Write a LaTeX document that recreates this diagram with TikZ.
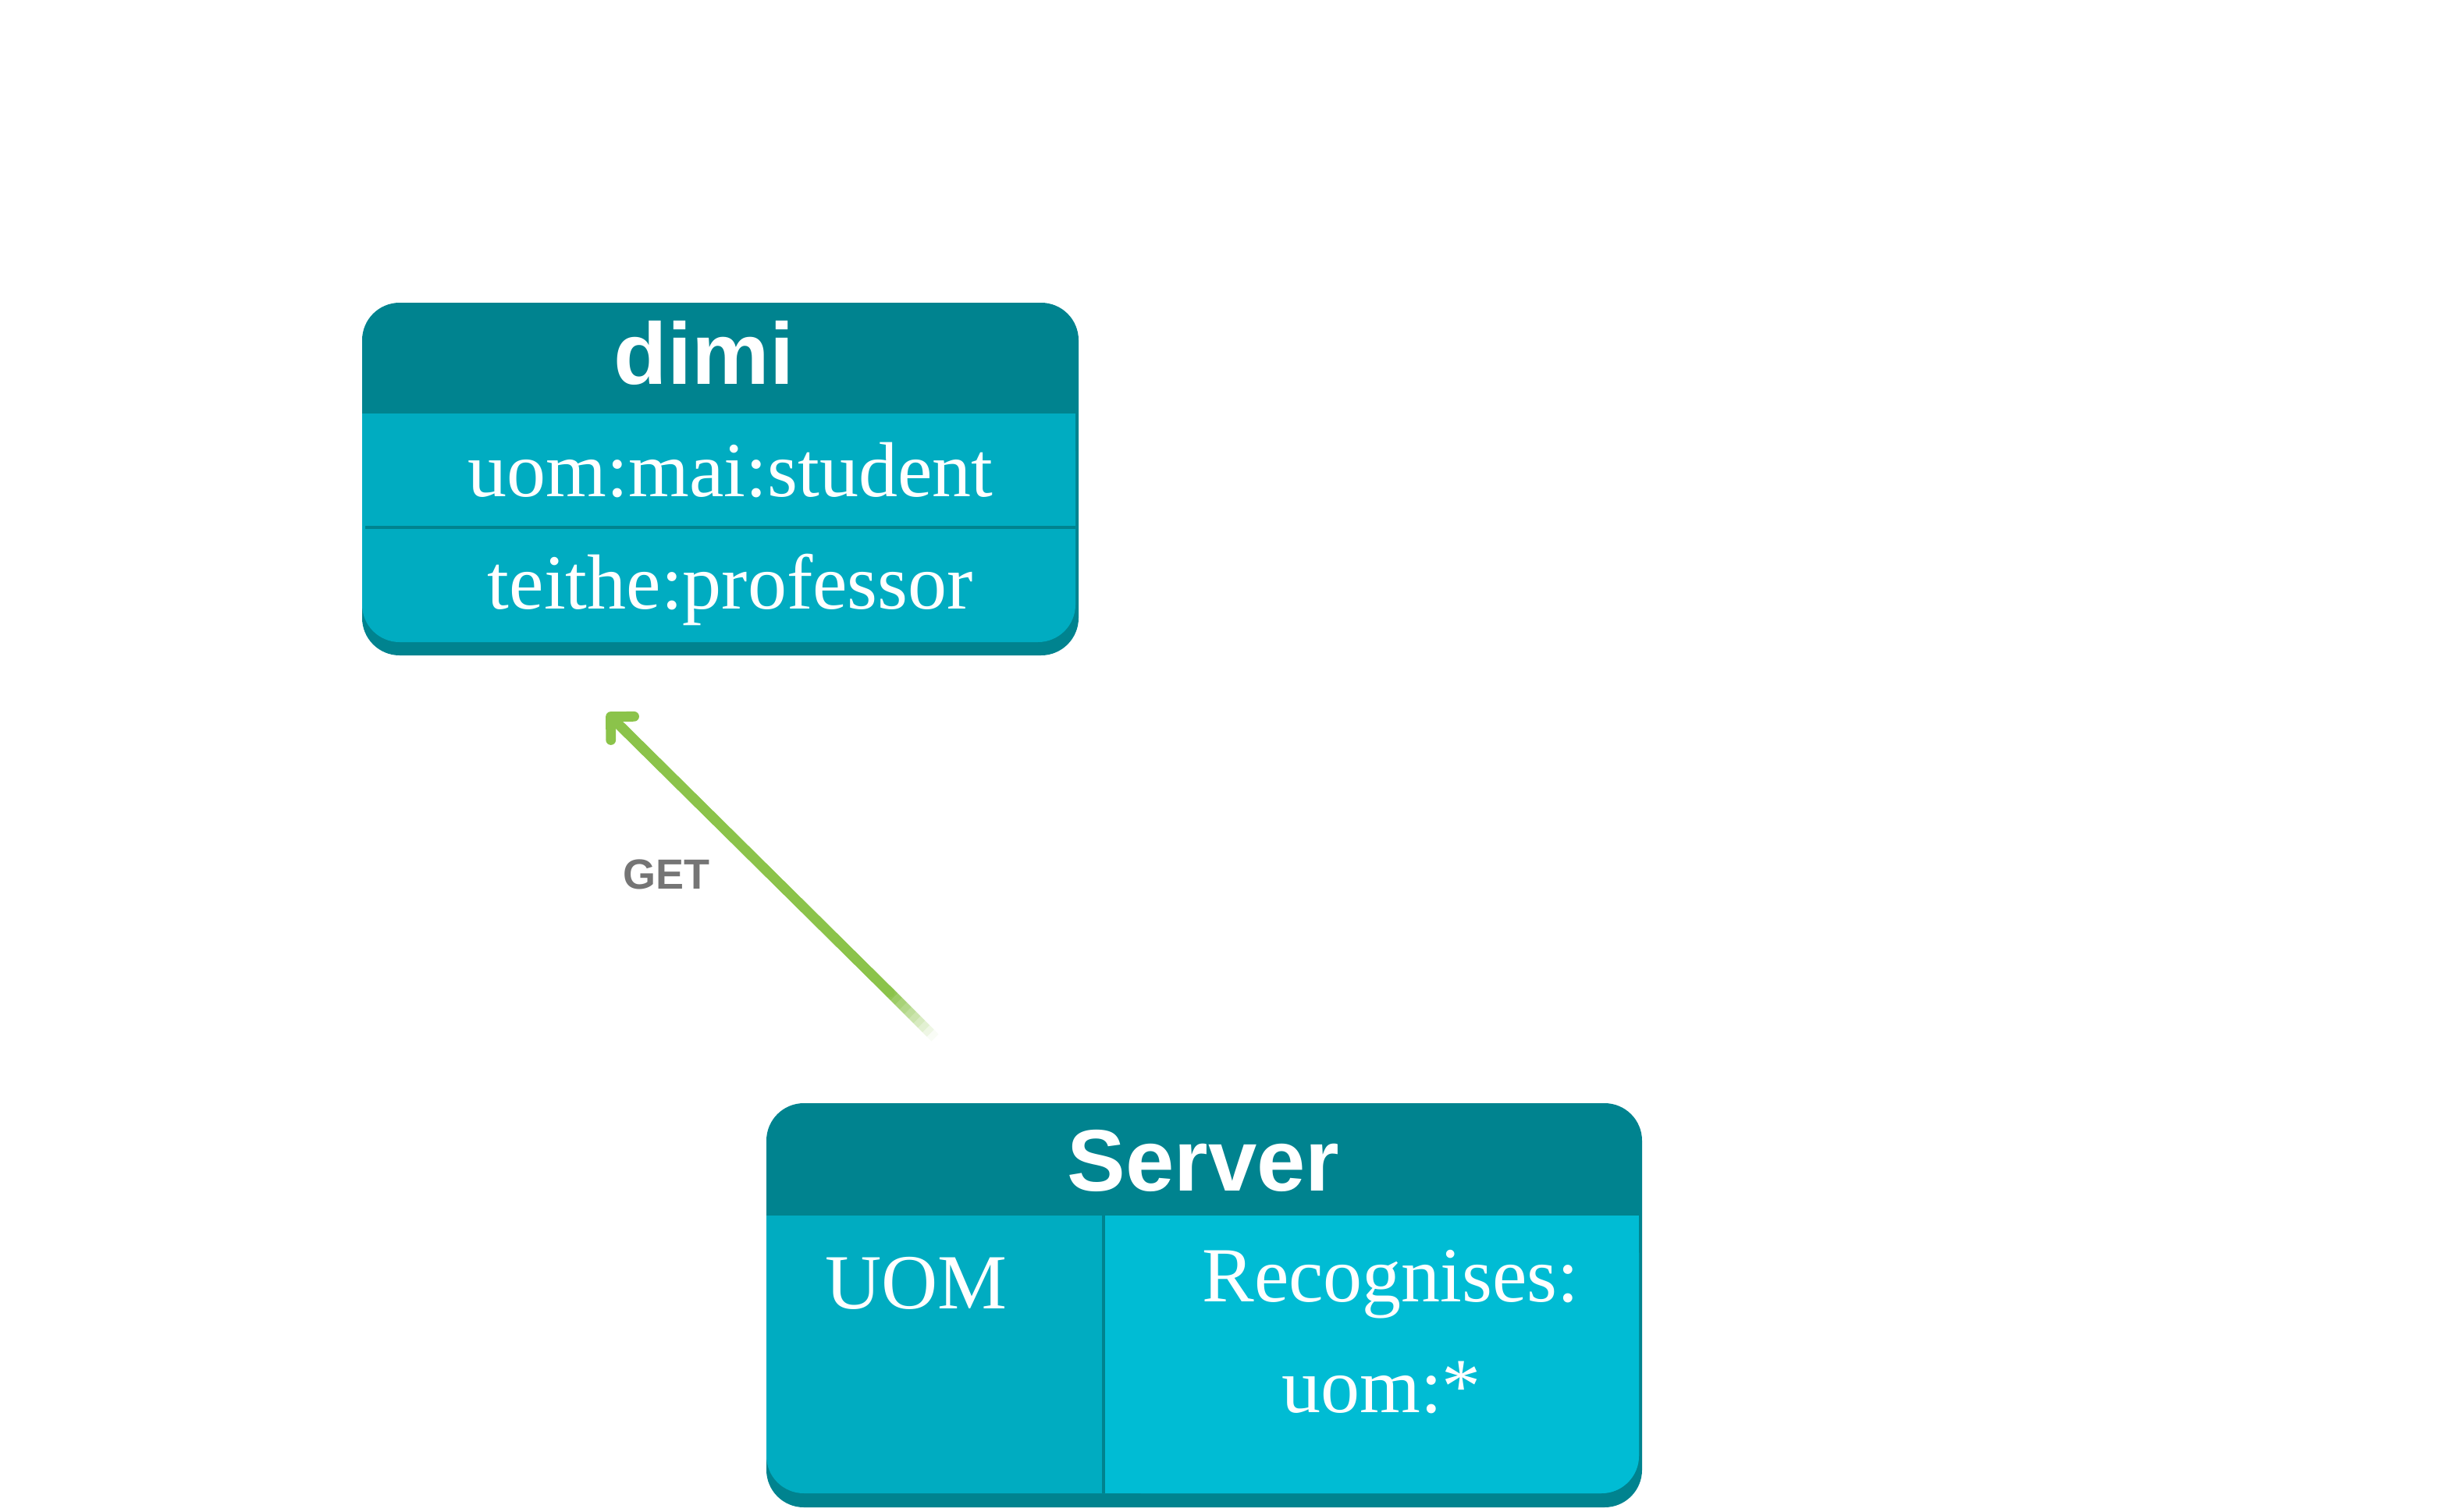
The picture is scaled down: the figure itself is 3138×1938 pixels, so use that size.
\documentclass[tikz,border=0pt]{standalone}
\usepackage{fontspec}
\setmainfont{Liberation Serif}
\setsansfont{Liberation Sans}
\usetikzlibrary{arrows.meta,calc}
\definecolor{hdrteal}{HTML}{00838F}
\definecolor{bodyteal}{HTML}{00ACC1}
\definecolor{lightteal}{HTML}{00BCD4}
\definecolor{arrowgreen}{HTML}{8BC34A}
\definecolor{labelgray}{HTML}{757575}
\tikzset{every picture/.style={line width=0.75pt}}
\tikzset{
	title/.style={text=white, anchor=base, font=\sffamily\bfseries\fontsize{28}{30}\selectfont},
	entry/.style={text=white, anchor=base, font=\fontsize{25}{27}\selectfont},
	verb/.style={text=labelgray, anchor=base, font=\sffamily\bfseries\fontsize{13.5}{15}\selectfont},
	request/.style={draw=arrowgreen, line width=3.2pt},
	requesthead/.style={request, line cap=round, -{Straight Barb[length=5.3pt,width=10.6pt,line cap=round,line join=round]}}}

\begin{document}
\begin{tikzpicture}[x=0.25pt,y=0.25pt,yscale=-1,xscale=1]
	\useasboundingbox (0,0) rectangle (3138,1938);

	%Shape: Rounded Rect [id:dimi]
	\fill [hdrteal, rounded corners=12pt] (464,388) rectangle (1382,840) ;
	\fill [bodyteal, rounded corners=12pt] (464,530) rectangle (1378,823) ;
	\fill [bodyteal] (464,530) rectangle (1378,650) ;
	%Straight Lines [id:dimi-divider]
	\draw [hdrteal, line width=1.2pt] (468,676) -- (1378,676) ;

	%Shape: Rounded Rect [id:server]
	\fill [hdrteal, rounded corners=12pt] (982,1414) rectangle (2104,1932) ;
	\fill [bodyteal, rounded corners=12pt] (982,1558) rectangle (2100,1914) ;
	\fill [bodyteal] (982,1558) rectangle (2100,1680) ;
	\fill [lightteal, rounded corners=12pt] (1414,1558) rectangle (2100,1914) ;
	\fill [lightteal] (1414,1558) rectangle (2100,1680) ;
	\fill [lightteal] (1414,1558) rectangle (1520,1914) ;
	%Straight Lines [id:server-divider]
	\draw [hdrteal, line width=1pt] (1414,1558) -- (1414,1914) ;

	% Text Node
	\node [title] (dimi) at (902,492) {dimi};
	% Text Node
	\node [entry] (student) at (936,636) {uom:mai:student};
	% Text Node
	\node [entry] (professor) at (936,780) {teithe:professor};
	% Text Node
	\node [title] (server) at (1542,1526) {Server};
	% Text Node
	\node [entry] (uom) at (1174,1677) {UOM};
	% Text Node
	\node [entry] (recognises) at (1782,1668) {Recognises:};
	% Text Node
	\node [entry] (uomstar) at (1770,1810) {uom:*};
	% Text Node
	\node [verb] (get) at (854,1139) {GET};

	%Straight Lines [id:get-arrow]
	\coordinate (tail) at (1198,1330);
	\coordinate (fade) at (1140,1272);
	\coordinate (tip) at (778,914);
	\draw [requesthead] (fade) -- (tip) ;
	\foreach \i in {0,...,9}
		\draw [request, draw opacity={1-(\i+0.5)/10}] ($(fade)!\i/10!(tail)$) -- ($(fade)!{(\i+1)/10}!(tail)$) ;

\end{tikzpicture}
\end{document}
